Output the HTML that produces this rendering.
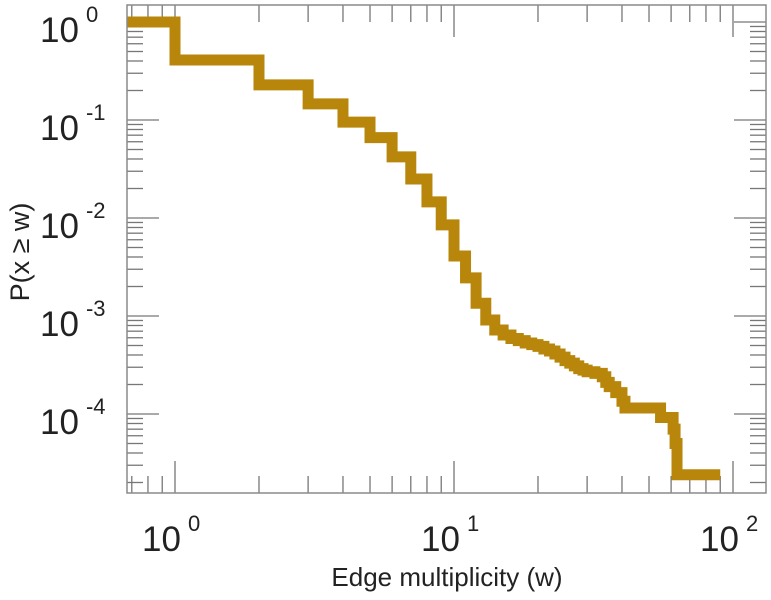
<!DOCTYPE html>
<html><head><meta charset="utf-8"><style>
html,body{margin:0;padding:0;background:#fff;}
svg{display:block;font-family:"Liberation Sans",sans-serif;}
</style></head><body>
<svg id="chart" width="771" height="600" viewBox="0 0 771 600" xmlns="http://www.w3.org/2000/svg">
<rect x="0" y="0" width="771" height="600" fill="#fff"/>
<g id="ticks"></g>
<path id="series" fill="none" stroke="#b8860b" stroke-width="11" stroke-linejoin="miter" stroke-linecap="butt"/>
<rect x="127" y="5" width="639" height="488" fill="none" stroke="#8a8a8a" stroke-width="1.5"/>
<g id="labels" fill="#222"></g>
<text x="447" y="586" text-anchor="middle" font-size="26" fill="#222">Edge multiplicity (w)</text>
<text transform="translate(29,252) rotate(-90)" text-anchor="middle" font-size="27" fill="#222">P(x ≥ w)</text>
</svg>
<script>
const stepW = [1,2,3,4,5,6,7,8,9,10,11,12,13,14,15,16,17,18,19,20,21,22,23,24,25,26,27,28,29,30,32,34,35,36,38,40,41,55,61,62,63];
const stepP = [0.41,0.228,0.146,0.095,0.066,0.042,0.025,0.0146,0.0085,0.0041,0.00245,0.00135,0.00091,0.00072,0.00064,0.00059,0.00056,0.00053,0.00051,0.00049,0.00046,0.00044,0.00041,0.00038,0.00035,0.00033,0.00031,0.00029,0.00028,0.00027,0.00026,0.00024,0.00021,0.00019,0.000165,0.000135,0.000115,0.000092,0.00007,0.00005,0.000024];
const startP = [1];
const endW = [90];
const xTickExps = [0,1,2];
const yTickExps = [0,-1,-2,-3,-4];

const L=127,R=766,T=5,B=493;
const xs = w => 175 + 279*Math.log10(w);
const ys = p => 22 - 98*Math.log10(p);
const xMin = Math.pow(10,(L-175)/279), xMax = Math.pow(10,(R-175)/279);
const yMin = Math.pow(10,-(B-22)/98), yMax = Math.pow(10,-(T-22)/98);

let d = 'M'+L+','+ys(startP[0]);
let prev = startP[0];
for(let i=0;i<stepW.length;i++){
  const x=xs(stepW[i]);
  d += ' L'+x+','+ys(prev)+' L'+x+','+ys(stepP[i]);
  prev=stepP[i];
}
d += ' L'+xs(endW[0])+','+ys(prev);
document.getElementById('series').setAttribute('d',d);

const NS='http://www.w3.org/2000/svg';
const tg=document.getElementById('ticks');
function ln(x1,y1,x2,y2){
  const l=document.createElementNS(NS,'line');
  l.setAttribute('x1',x1);l.setAttribute('y1',y1);l.setAttribute('x2',x2);l.setAttribute('y2',y2);
  l.setAttribute('stroke','#777');l.setAttribute('stroke-width','1.3');
  
  
  tg.appendChild(l);
}
for(let e=-1;e<=2;e++){
  for(let m=1;m<=9;m++){
    const v=m*Math.pow(10,e);
    if(v<xMin||v>xMax) continue;
    const x=xs(v), len=m===1?32:17;
    ln(x,B,x,B-len); ln(x,T,x,T+len);
  }
}
for(let e=-5;e<=0;e++){
  for(let m=1;m<=9;m++){
    const v=m*Math.pow(10,e);
    if(v<yMin||v>yMax) continue;
    const y=ys(v), len=m===1?32:16;
    ln(L,y,L+len,y); ln(R,y,R-len,y);
  }
}
const lg=document.getElementById('labels');
xTickExps.forEach(e=>{
  const x=xs(Math.pow(10,e));
  const t=document.createElementNS(NS,'text');
  
  
  t.setAttribute('x',x-33);t.setAttribute('y',551);t.setAttribute('font-size','35');
  t.innerHTML='10<tspan dx="7" dy="-20" font-size="22">'+e+'</tspan>';
  lg.appendChild(t);
});
yTickExps.forEach(e=>{
  const y=ys(Math.pow(10,e));
  const t=document.createElementNS(NS,'text');
  
  
  t.setAttribute('x',40);t.setAttribute('y',y+20);t.setAttribute('font-size','35');
  t.innerHTML='10<tspan dx="7" dy="-20" font-size="22">'+e+'</tspan>';
  lg.appendChild(t);
});
</script>
</body></html>
